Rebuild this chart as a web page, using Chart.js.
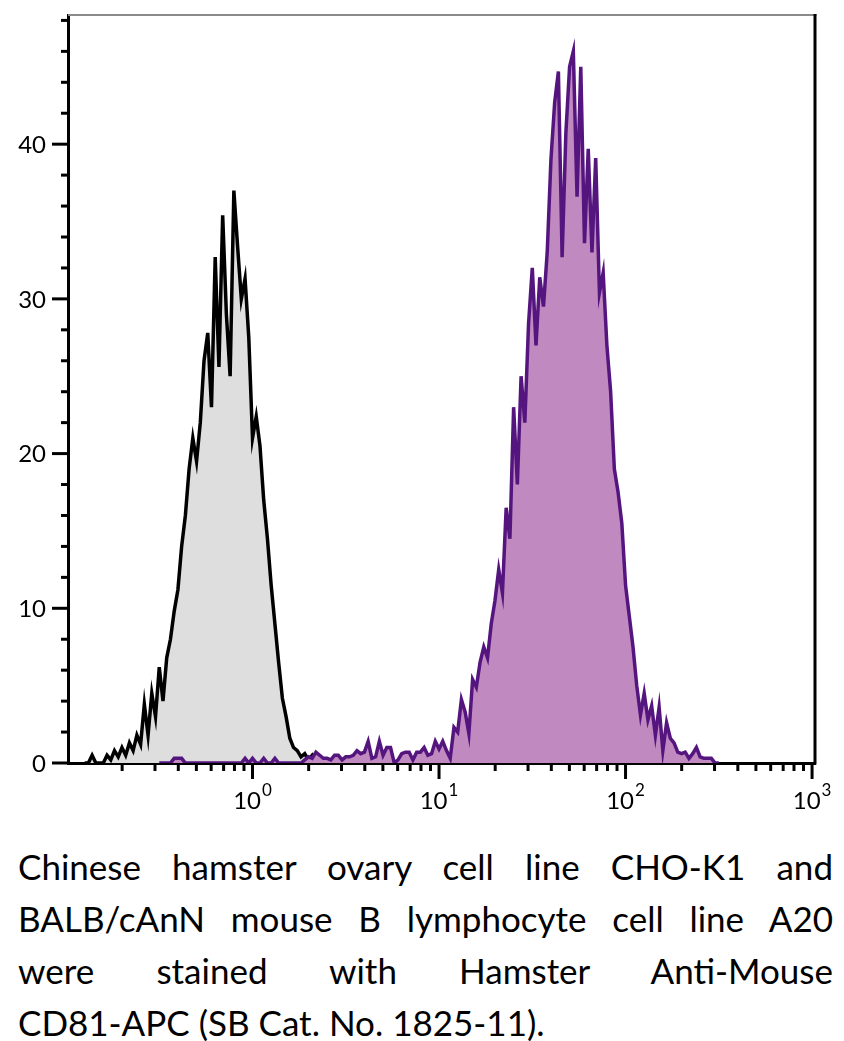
<!DOCTYPE html>
<html>
<head>
<meta charset="utf-8">
<script src="https://cdn.jsdelivr.net/npm/chart.js@4"></script>
<style>
body { margin: 0; background: #fff; width: 844px; height: 1041px; overflow: hidden; }
#wrap { position: relative; width: 844px; height: 830px; }
#caption { position: absolute; left: 18px; top: 840px; width: 815px; font-family: Lato, "Open Sans", sans-serif; font-size: 35px; line-height: 52px; color: #000; }
#caption div { white-space: nowrap; }
#caption .j { text-align: justify; text-align-last: justify; white-space: normal; }
</style>
</head>
<body>
<div id="wrap"><canvas id="myChart" width="844" height="830"></canvas></div>
<div id="caption">
  <div class="j">Chinese hamster ovary cell line CHO-K1 and</div>
  <div class="j">BALB/cAnN mouse B lymphocyte cell line A20</div>
  <div class="j">were stained with Hamster Anti-Mouse</div>
  <div>CD81-APC (SB Cat. No. 1825-11).</div>
</div>
<script>
// log10 of fluorescence channel (bin positions)
const logCh = [
  -0.90, -0.88, -0.86, -0.84, -0.82, -0.80, -0.78, -0.76, -0.74, -0.72,
  -0.70, -0.68, -0.66, -0.64, -0.62, -0.60, -0.58, -0.56, -0.54, -0.52,
  -0.50, -0.48, -0.46, -0.44, -0.42, -0.40, -0.38, -0.36, -0.34, -0.32,
  -0.30, -0.28, -0.26, -0.24, -0.22, -0.20, -0.18, -0.16, -0.14, -0.12,
  -0.10, -0.08, -0.06, -0.04, -0.02, 0.00, 0.02, 0.04, 0.06, 0.08,
  0.10, 0.12, 0.14, 0.16, 0.18, 0.20, 0.22, 0.24, 0.26, 0.28,
  0.30, 0.32, 0.34, 0.36, 0.38, 0.40, 0.42, 0.44, 0.46, 0.48,
  0.50, 0.52, 0.54, 0.56, 0.58, 0.60, 0.62, 0.64, 0.66, 0.68,
  0.70, 0.72, 0.74, 0.76, 0.78, 0.80, 0.82, 0.84, 0.86, 0.88,
  0.90, 0.92, 0.94, 0.96, 0.98, 1.00, 1.02, 1.04, 1.06, 1.08,
  1.10, 1.12, 1.14, 1.16, 1.18, 1.20, 1.22, 1.24, 1.26, 1.28,
  1.30, 1.32, 1.34, 1.36, 1.38, 1.40, 1.42, 1.44, 1.46, 1.48,
  1.50, 1.52, 1.54, 1.56, 1.58, 1.60, 1.62, 1.64, 1.66, 1.68,
  1.70, 1.72, 1.74, 1.76, 1.78, 1.80, 1.82, 1.84, 1.86, 1.88,
  1.90, 1.92, 1.94, 1.96, 1.98, 2.00, 2.02, 2.04, 2.06, 2.08,
  2.10, 2.12, 2.14, 2.16, 2.18, 2.20, 2.22, 2.24, 2.26, 2.28,
  2.30, 2.32, 2.34, 2.36, 2.38, 2.40, 2.42, 2.44, 2.46, 2.48,
  2.50
];

// CHO-K1 (grey, unstained by the antibody)
const choK1 = [
  0, 0, 0.5, 0, 0, 0, 0.5, 0.2, 0.8, 0.4,
  1.0, 0.5, 1.3, 0.8, 1.8, 1.2, 3.8, 1.8, 4.5, 3.0,
  6.2, 4.0, 6.8, 8.0, 9.8, 11.2, 14.0, 16.0, 19.0, 21.0,
  19.5, 22.0, 26.0, 27.8, 23.0, 32.7, 25.6, 35.4, 29.0, 25.0,
  37.0, 33.4, 30.0, 31.3, 27.5, 21.0, 22.4, 20.5, 17.0, 14.5,
  11.5, 9.0, 6.5, 4.2, 3.0, 1.6, 1.0, 0.8, 0.4, 0.6,
  0.2, 0.5, 0.1, 0, 0, 0
];

// A20 (purple, CD81 positive)
const a20 = [
  null, null, null, null, null, null, null, null, null, null,
  null, null, null, null, null, null, null, null, null, null,
  0, 0, 0, 0, 0.3, 0.3, 0.3, 0, 0, 0,
  0, 0, 0, 0, 0, 0, 0, 0, 0, 0,
  0, 0, 0, 0.3, 0, 0.3, 0, 0, 0.3, 0,
  0, 0.3, 0, 0, 0, 0, 0, 0, 0, 0.2,
  0.4, 0.3, 0.7, 0.5, 0.3, 0.3, 0.2, 0.5, 0.5, 0.2,
  0.4, 0.4, 0.5, 0.8, 0.6, 0.7, 1.4, 0.3, 0.4, 1.4,
  0.5, 1.0, 1.0, 0, 0.2, 0.6, 0.7, 0.7, 0.2, 0.7,
  0.7, 1.0, 0.5, 0.6, 1.4, 0.9, 1.4, 0.8, 0.3, 2.3,
  2.0, 4.1, 3.3, 1.9, 5.4, 4.9, 6.5, 7.5, 6.8, 9.0,
  10.5, 12.5, 11.0, 16.5, 14.5, 23.0, 18.0, 25.0, 22.0, 28.4,
  32.0, 27.0, 31.4, 29.5, 33.0, 39.0, 42.7, 44.7, 32.7, 40.7,
  45.0, 46.0, 36.6, 45.0, 33.6, 39.7, 33.0, 39.1, 30.4, 31.7,
  27.0, 24.0, 19.0, 17.5, 15.5, 11.5, 9.5, 7.5, 5.0, 3.1,
  4.5, 2.8, 3.7, 1.8, 3.6, 0.8, 2.6, 1.6, 1.3, 0.7,
  0.6, 0.7, 0.3, 0.6, 1.0, 0.4, 0.3, 0.3, 0.3, 0,
  0
];

// axis ticks
const yMajor = [0, 10, 20, 30, 40];
const yMinor = [2, 4, 6, 8, 12, 14, 16, 18, 22, 24, 26, 28, 32, 34, 36, 38, 42, 44, 46, 48];
const xMajor = [1, 10, 100, 1000];
const xExp = ['0', '1', '2', '3'];
const xMinor = [0.2, 0.3, 0.4, 0.5, 0.6, 0.7, 0.8, 0.9,
                2, 3, 4, 5, 6, 7, 8, 9,
                20, 30, 40, 50, 60, 70, 80, 90,
                200, 300, 400, 500, 600, 700, 800, 900];

function puntos(serie) {
    return logCh.map((e, i) => ({ x: Math.pow(10, e), y: serie[i] }))
        .filter(p => p.y !== null && p.y !== undefined);
}

const ejes = {
    id: 'ejes',
    afterDraw(chart) {
        const { ctx, chartArea: a, scales: { x, y } } = chart;
        ctx.save();
        // top frame line (grey) and right frame line
        ctx.strokeStyle = '#8a8a8a';
        ctx.lineWidth = 2;
        ctx.beginPath();
        ctx.moveTo(a.left, a.top);
        ctx.lineTo(a.right + 1.5, a.top);
        ctx.stroke();
        ctx.strokeStyle = '#000';
        ctx.lineWidth = 3;
        ctx.beginPath();
        ctx.moveTo(a.right, a.top - 1);
        ctx.lineTo(a.right, a.bottom + 1.5);
        ctx.stroke();

        // y ticks
        ctx.lineWidth = 3;
        yMinor.forEach(v => {
            const py = y.getPixelForValue(v);
            ctx.beginPath(); ctx.moveTo(a.left - 7, py); ctx.lineTo(a.left, py); ctx.stroke();
        });
        ctx.font = '24px Lato';
        ctx.fillStyle = '#000';
        ctx.textAlign = 'right';
        ctx.textBaseline = 'middle';
        yMajor.forEach(v => {
            const py = y.getPixelForValue(v);
            ctx.beginPath(); ctx.moveTo(a.left - 16, py); ctx.lineTo(a.left, py); ctx.stroke();
            ctx.fillText(String(v), a.left - 22, py + 1);
        });

        // x ticks
        xMinor.forEach(v => {
            const px = x.getPixelForValue(v);
            ctx.beginPath(); ctx.moveTo(px, a.bottom); ctx.lineTo(px, a.bottom + 8); ctx.stroke();
        });
        ctx.textBaseline = 'alphabetic';
        ctx.textAlign = 'left';
        xMajor.forEach((v, i) => {
            const px = x.getPixelForValue(v);
            ctx.beginPath(); ctx.moveTo(px, a.bottom); ctx.lineTo(px, a.bottom + 16); ctx.stroke();
            ctx.font = '24px Lato';
            const w1 = ctx.measureText('10').width;
            ctx.font = '17px Lato';
            const w2 = ctx.measureText(xExp[i]).width;
            const x0 = px - (w1 + w2 + 1) / 2;
            ctx.font = '24px Lato';
            ctx.fillText('10', x0, a.bottom + 46);
            ctx.font = '17px Lato';
            ctx.fillText(xExp[i], x0 + w1 + 1, a.bottom + 33);
        });
        ctx.restore();
    }
};

const ctx = document.getElementById('myChart').getContext('2d');
const myChart = new Chart(ctx, {
    type: 'line',
    data: {
        datasets: [{
            label: 'A20',
            data: puntos(a20),
            borderColor: '#55157f',
            backgroundColor: '#c08ac0',
            fill: 'origin',
            borderWidth: 3.5,
            pointRadius: 0,
            tension: 0,
            order: 0
        }, {
            label: 'CHO-K1',
            data: puntos(choK1),
            borderColor: '#000000',
            backgroundColor: '#dedede',
            fill: 'origin',
            borderWidth: 3.5,
            pointRadius: 0,
            tension: 0,
            order: 1
        }]
    },
    options: {
        responsive: false,
        animation: false,
        layout: { padding: { top: 15, right: 29, left: 0, bottom: 0 } },
        plugins: { legend: { display: false }, tooltip: { enabled: false } },
        scales: {
            x: {
                type: 'logarithmic',
                min: 0.1025,
                max: 1037,
                z: 1,
                border: { color: '#000', width: 3 },
                grid: { display: false },
                ticks: { display: false },
                afterFit(s) { s.height = 67; }
            },
            y: {
                min: 0,
                max: 48.35,
                z: 1,
                border: { color: '#000', width: 3 },
                grid: { display: false },
                ticks: { display: false },
                afterFit(s) { s.width = 68; }
            }
        }
    },
    plugins: [ejes]
});
</script>
</body>
</html>
